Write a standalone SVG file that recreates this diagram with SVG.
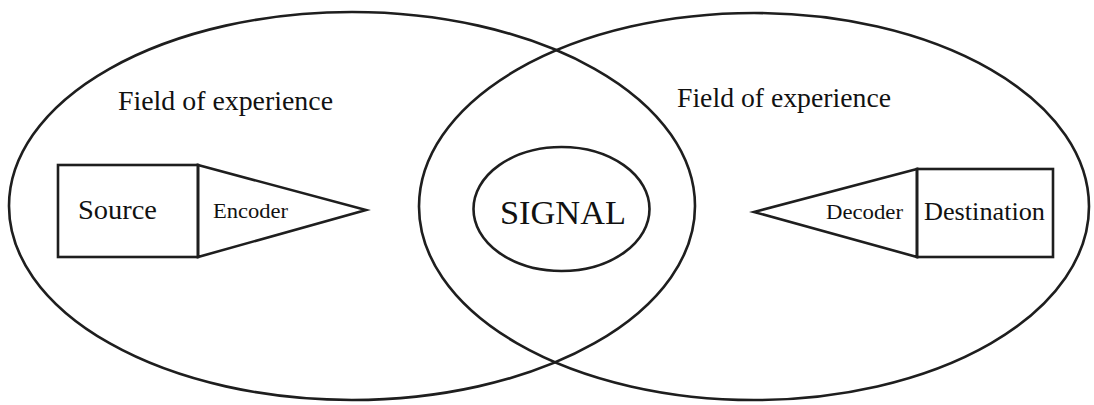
<svg xmlns="http://www.w3.org/2000/svg" width="1094" height="405" viewBox="0 0 1094 405">
<style>
.ln{fill:none;stroke:#1e1e1e;stroke-width:2.6;stroke-linejoin:miter}
.t{font-family:"Liberation Serif","Times New Roman",serif;fill:#111}
</style>
<rect width="1094" height="405" fill="#fff"/>
<g id="field-left"><ellipse class="ln" cx="352" cy="206" rx="343" ry="194"/>
<text class="t" x="118" y="110" font-size="27" textLength="215" lengthAdjust="spacingAndGlyphs">Field of experience</text></g>
<g id="field-right"><ellipse class="ln" cx="754" cy="206.5" rx="335" ry="193.5"/>
<text class="t" x="677" y="107" font-size="27" textLength="214" lengthAdjust="spacingAndGlyphs">Field of experience</text></g>
<g id="signal"><ellipse class="ln" cx="561.5" cy="209" rx="88" ry="62"/>
<text class="t" x="500" y="224" font-size="33" textLength="126" lengthAdjust="spacingAndGlyphs">SIGNAL</text></g>
<g id="source"><rect class="ln" x="58" y="165" width="140" height="92"/>
<text class="t" x="78" y="219" font-size="27" textLength="79" lengthAdjust="spacingAndGlyphs">Source</text></g>
<g id="encoder"><polygon class="ln" points="198,165 366,210 198,257"/>
<text class="t" x="213" y="218" font-size="21" textLength="75" lengthAdjust="spacingAndGlyphs">Encoder</text></g>
<g id="decoder"><polygon class="ln" points="917,169 754,212 917,257"/>
<text class="t" x="826" y="219" font-size="21" textLength="77" lengthAdjust="spacingAndGlyphs">Decoder</text></g>
<g id="destination"><rect class="ln" x="917" y="169" width="136" height="88"/>
<text class="t" x="924" y="220" font-size="25" textLength="121" lengthAdjust="spacingAndGlyphs">Destination</text></g>
<g id="connectors"/>
</svg>
